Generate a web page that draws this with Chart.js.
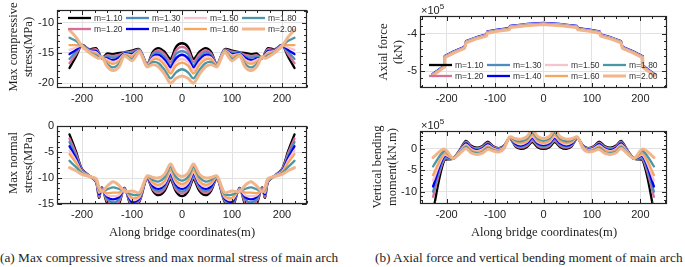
<!DOCTYPE html>
<html><head><meta charset="utf-8">
<script src="https://cdn.jsdelivr.net/npm/chart.js@4.4.1/dist/chart.umd.min.js"></script>
<style>
html,body{margin:0;padding:0;background:#fff;}
#wrap{position:relative;width:685px;height:267px;overflow:hidden;background:#fff;}
canvas{position:absolute;}
.t{position:absolute;font-family:"Liberation Serif","Times New Roman",serif;color:#1e1e1e;white-space:nowrap;font-size:12.6px;line-height:14px;}
.rot{transform:translate(-50%,-50%) rotate(-90deg);}
.ctr{transform:translate(-50%,-50%);}
.cap{font-size:13.3px;}
.exp{position:absolute;font-family:"Liberation Sans",Arial,sans-serif;font-size:11px;color:#222;line-height:12px;white-space:nowrap;}
.exp span{font-size:8px;position:relative;top:-5px;}
</style></head>
<body><div id="wrap">
<canvas id="c1" width="330" height="116" style="left:0px;top:-6px;width:330px;height:116px"></canvas>
<canvas id="c2" width="330" height="125" style="left:0px;top:110px;width:330px;height:125px"></canvas>
<canvas id="c3" width="345" height="110" style="left:340px;top:0px;width:345px;height:110px"></canvas>
<canvas id="c4" width="345" height="125" style="left:340px;top:110px;width:345px;height:125px"></canvas>
<div class="t rot" style="left:13px;top:47px">Max compressive</div>
<div class="t rot" style="left:28px;top:47px">stress(MPa)</div>
<div class="t rot" style="left:13px;top:163px">Max normal</div>
<div class="t rot" style="left:28px;top:163px">stress(MPa)</div>
<div class="t rot" style="left:383px;top:52px">Axial force</div>
<div class="t rot" style="left:398px;top:52px">(kN)</div>
<div class="t rot" style="left:377px;top:167px">Vertical bending</div>
<div class="t rot" style="left:392px;top:167px">moment(kN.m)</div>
<div class="t ctr" style="left:182px;top:232px">Along bridge coordinates(m)</div>
<div class="t ctr" style="left:544px;top:232px">Along bridge coordinates(m)</div>
<div class="t cap" style="left:0px;top:251px">(a) Max compressive stress and max normal stress of main arch</div>
<div class="t cap" style="left:375px;top:251px">(b) Axial force and vertical bending moment of main arch</div>
<div class="exp" style="left:421px;top:4px">×10<span>5</span></div>
<div class="exp" style="left:421px;top:119px">×10<span>5</span></div>
</div>
<script>
// ---------- categories / labels ----------
const M_LABELS = ['m=1.10','m=1.20','m=1.30','m=1.40','m=1.50','m=1.60','m=1.80','m=2.00'];
const LEGEND_ORDER = [0,2,4,6,1,3,5,7];

// ---------- tick labels ----------
const X_TICKS = [-200,-100,0,100,200];
const Y_TICKS_COMP = [-10,-15,-20];
const Y_TICKS_NORM = [0,-5,-10,-15];
const Y_TICKS_AXIAL = [-4,-5];
const Y_TICKS_MOMENT = [0,-5,-10];

// ---------- x coordinates (m) ----------
const X_STRESS = [-225,-212,-200,-185,-172,-166,-160,-150,-138,-126,-115,-100,-85,-70,-58,-47,-35,-23,-12,0,12,23,35,47,58,70,85,100,115,126,138,150,160,166,172,185,200,212,225];
const X_AXIAL = [-229,-217,-205,-204,-185,-163,-160,-140,-118,-116,-95,-71,-69,-35,0,35,69,71,95,116,118,140,160,163,185,204,205,217,229];
const X_MOMENT = [-228,-205,-187,-175,-160,-150,-138,-126,-115,-104,-92,-82,-70,-58,-47,-35,-23,-12,0,12,23,35,47,58,70,82,92,104,115,126,138,150,160,175,187,205,228];

// ---------- Max compressive stress (MPa) ----------
const COMP_m110 = [-17.5,-15.6,-13.7,-14.4,-14.2,-15.0,-15.9,-15.1,-15.2,-15.0,-14.9,-14.6,-14.4,-16.8,-14.8,-14.2,-14.8,-16.0,-14.0,-13.4,-14.0,-16.0,-14.8,-14.2,-14.8,-16.8,-14.4,-14.6,-14.9,-15.0,-15.2,-15.1,-15.9,-15.0,-14.2,-14.4,-13.7,-15.6,-17.5];
const COMP_m120 = [-16.7,-15.2,-13.7,-14.5,-14.4,-15.1,-15.9,-15.4,-15.5,-15.3,-15.0,-14.8,-14.5,-16.9,-15.1,-14.6,-15.2,-16.5,-14.6,-14.0,-14.6,-16.5,-15.2,-14.6,-15.1,-16.9,-14.5,-14.8,-15.0,-15.3,-15.5,-15.4,-15.9,-15.1,-14.4,-14.5,-13.7,-15.2,-16.7];
const COMP_m130 = [-16.0,-14.8,-13.7,-14.5,-14.6,-15.2,-15.8,-15.6,-15.8,-15.6,-15.0,-15.0,-14.5,-16.9,-15.3,-14.9,-15.7,-17.0,-15.2,-14.7,-15.2,-17.0,-15.7,-14.9,-15.3,-16.9,-14.5,-15.0,-15.0,-15.6,-15.8,-15.6,-15.8,-15.2,-14.6,-14.5,-13.7,-14.8,-16.0];
const COMP_m140 = [-15.2,-14.5,-13.8,-14.6,-14.7,-15.3,-15.8,-15.9,-16.2,-15.8,-15.1,-15.2,-14.6,-17.0,-15.6,-15.3,-16.1,-17.4,-15.9,-15.3,-15.9,-17.4,-16.1,-15.3,-15.6,-17.0,-14.6,-15.2,-15.1,-15.8,-16.2,-15.9,-15.8,-15.3,-14.7,-14.6,-13.8,-14.5,-15.2];
const COMP_m150 = [-14.5,-14.1,-13.8,-14.7,-14.9,-15.4,-15.8,-16.1,-16.5,-16.1,-15.2,-15.4,-14.6,-17.0,-15.8,-15.7,-16.6,-17.9,-16.5,-16.0,-16.5,-17.9,-16.6,-15.7,-15.8,-17.0,-14.6,-15.4,-15.2,-16.1,-16.5,-16.1,-15.8,-15.4,-14.9,-14.7,-13.8,-14.1,-14.5];
const COMP_m160 = [-13.7,-13.7,-13.8,-14.8,-15.1,-15.5,-15.7,-16.4,-16.8,-16.4,-15.3,-15.6,-14.7,-17.1,-16.1,-16.1,-17.0,-18.4,-17.1,-16.6,-17.1,-18.4,-17.0,-16.1,-16.1,-17.1,-14.7,-15.6,-15.3,-16.4,-16.8,-16.4,-15.7,-15.5,-15.1,-14.8,-13.8,-13.7,-13.7];
const COMP_m180 = [-12.5,-13.0,-13.9,-14.9,-15.4,-15.7,-15.7,-16.8,-17.4,-16.8,-15.4,-16.0,-14.8,-17.2,-16.5,-16.7,-17.8,-19.2,-18.2,-17.7,-18.2,-19.2,-17.8,-16.7,-16.5,-17.2,-14.8,-16.0,-15.4,-16.8,-17.4,-16.8,-15.7,-15.7,-15.4,-14.9,-13.9,-13.0,-12.5];
const COMP_m200 = [-11.2,-12.4,-13.9,-15.0,-15.7,-15.9,-15.6,-17.2,-17.9,-17.3,-15.5,-16.3,-14.9,-17.3,-16.9,-17.3,-18.5,-20.0,-19.2,-18.8,-19.2,-20.0,-18.5,-17.3,-16.9,-17.3,-14.9,-16.3,-15.5,-17.3,-17.9,-17.2,-15.6,-15.9,-15.7,-15.0,-13.9,-12.4,-11.2];

// ---------- Max normal stress (MPa) ----------
const NORM_m110 = [-1.6,-4.9,-8.3,-9.6,-10.8,-13.8,-11.8,-14.8,-16.0,-15.0,-11.9,-15.8,-14.5,-10.0,-12.5,-13.3,-12.5,-10.3,-12.6,-13.5,-12.6,-10.3,-12.5,-13.3,-12.5,-10.0,-14.5,-15.8,-11.9,-15.0,-16.0,-14.8,-11.8,-13.8,-10.8,-9.6,-8.3,-4.9,-1.6];
const NORM_m120 = [-2.4,-5.3,-8.4,-9.6,-10.7,-13.6,-11.9,-14.4,-15.4,-14.6,-12.0,-15.4,-14.3,-10.0,-12.2,-12.9,-12.1,-9.9,-12.2,-13.0,-12.2,-9.9,-12.1,-12.9,-12.2,-10.0,-14.3,-15.4,-12.0,-14.6,-15.4,-14.4,-11.9,-13.6,-10.7,-9.6,-8.4,-5.3,-2.4];
const NORM_m130 = [-3.1,-5.8,-8.5,-9.6,-10.6,-13.3,-12.0,-14.0,-14.7,-14.1,-12.1,-15.0,-14.1,-9.9,-11.9,-12.5,-11.7,-9.6,-11.8,-12.6,-11.8,-9.6,-11.7,-12.5,-11.9,-9.9,-14.1,-15.0,-12.1,-14.1,-14.7,-14.0,-12.0,-13.3,-10.6,-9.6,-8.5,-5.8,-3.1];
const NORM_m140 = [-3.9,-6.2,-8.7,-9.6,-10.5,-13.1,-12.1,-13.6,-14.1,-13.7,-12.2,-14.6,-13.9,-9.9,-11.6,-12.1,-11.3,-9.2,-11.3,-12.1,-11.3,-9.2,-11.3,-12.1,-11.6,-9.9,-13.9,-14.6,-12.2,-13.7,-14.1,-13.6,-12.1,-13.1,-10.5,-9.6,-8.7,-6.2,-3.9];
const NORM_m150 = [-4.7,-6.7,-8.8,-9.6,-10.5,-12.8,-12.2,-13.3,-13.5,-13.3,-12.2,-14.2,-13.7,-9.8,-11.2,-11.7,-11.0,-8.9,-10.9,-11.7,-10.9,-8.9,-11.0,-11.7,-11.2,-9.8,-13.7,-14.2,-12.2,-13.3,-13.5,-13.3,-12.2,-12.8,-10.5,-9.6,-8.8,-6.7,-4.7];
const NORM_m160 = [-5.4,-7.1,-8.9,-9.7,-10.4,-12.6,-12.3,-12.9,-12.8,-12.8,-12.3,-13.8,-13.5,-9.8,-10.9,-11.3,-10.6,-8.5,-10.5,-11.2,-10.5,-8.5,-10.6,-11.3,-10.9,-9.8,-13.5,-13.8,-12.3,-12.8,-12.8,-12.9,-12.3,-12.6,-10.4,-9.7,-8.9,-7.1,-5.4];
const NORM_m180 = [-6.7,-7.9,-9.1,-9.7,-10.2,-12.2,-12.4,-12.2,-11.8,-12.1,-12.5,-13.2,-13.1,-9.7,-10.4,-10.7,-9.9,-7.9,-9.8,-10.5,-9.8,-7.9,-9.9,-10.7,-10.4,-9.7,-13.1,-13.2,-12.5,-12.1,-11.8,-12.2,-12.4,-12.2,-10.2,-9.7,-9.1,-7.9,-6.7];
const NORM_m200 = [-8.0,-8.6,-9.3,-9.7,-10.1,-11.8,-12.6,-11.6,-10.7,-11.4,-12.6,-12.5,-12.8,-9.6,-9.9,-10.0,-9.3,-7.3,-9.1,-9.7,-9.1,-7.3,-9.3,-10.0,-9.9,-9.6,-12.8,-12.5,-12.6,-11.4,-10.7,-11.6,-12.6,-11.8,-10.1,-9.7,-9.3,-8.6,-8.0];

// ---------- Axial force (x10^5 kN) ----------
const AXIAL_m110 = [-5.100,-4.990,-4.870,-4.620,-4.490,-4.370,-4.220,-4.120,-4.040,-3.960,-3.910,-3.870,-3.810,-3.760,-3.730,-3.760,-3.810,-3.870,-3.910,-3.960,-4.040,-4.120,-4.220,-4.370,-4.490,-4.620,-4.870,-4.990,-5.100];
const AXIAL_m120 = [-5.095,-4.985,-4.865,-4.615,-4.485,-4.365,-4.215,-4.115,-4.035,-3.955,-3.905,-3.865,-3.805,-3.755,-3.725,-3.755,-3.805,-3.865,-3.905,-3.955,-4.035,-4.115,-4.215,-4.365,-4.485,-4.615,-4.865,-4.985,-5.095];
const AXIAL_m130 = [-5.090,-4.980,-4.860,-4.610,-4.480,-4.360,-4.210,-4.110,-4.030,-3.950,-3.900,-3.860,-3.800,-3.750,-3.720,-3.750,-3.800,-3.860,-3.900,-3.950,-4.030,-4.110,-4.210,-4.360,-4.480,-4.610,-4.860,-4.980,-5.090];
const AXIAL_m140 = [-5.080,-4.970,-4.850,-4.600,-4.470,-4.350,-4.200,-4.100,-4.020,-3.940,-3.890,-3.850,-3.790,-3.740,-3.710,-3.740,-3.790,-3.850,-3.890,-3.940,-4.020,-4.100,-4.200,-4.350,-4.470,-4.600,-4.850,-4.970,-5.080];
const AXIAL_m150 = [-5.092,-4.982,-4.862,-4.612,-4.482,-4.362,-4.212,-4.112,-4.032,-3.952,-3.902,-3.862,-3.802,-3.752,-3.722,-3.752,-3.802,-3.862,-3.902,-3.952,-4.032,-4.112,-4.212,-4.362,-4.482,-4.612,-4.862,-4.982,-5.092];
const AXIAL_m160 = [-5.105,-4.995,-4.875,-4.625,-4.495,-4.375,-4.225,-4.125,-4.045,-3.965,-3.915,-3.875,-3.815,-3.765,-3.735,-3.765,-3.815,-3.875,-3.915,-3.965,-4.045,-4.125,-4.225,-4.375,-4.495,-4.625,-4.875,-4.995,-5.105];
const AXIAL_m180 = [-5.110,-5.000,-4.880,-4.630,-4.500,-4.380,-4.230,-4.130,-4.050,-3.970,-3.920,-3.880,-3.820,-3.770,-3.740,-3.770,-3.820,-3.880,-3.920,-3.970,-4.050,-4.130,-4.230,-4.380,-4.500,-4.630,-4.880,-5.000,-5.110];
const AXIAL_m200 = [-5.125,-5.015,-4.895,-4.645,-4.515,-4.395,-4.245,-4.145,-4.065,-3.985,-3.935,-3.895,-3.835,-3.785,-3.755,-3.785,-3.835,-3.895,-3.935,-3.985,-4.065,-4.145,-4.245,-4.395,-4.515,-4.645,-4.895,-5.015,-5.125];

// ---------- Vertical bending moment (x10^5 kN.m) ----------
const MOM_m110 = [-14.5,-2.7,-2.3,-0.6,1.9,0.8,0.3,0.7,1.7,0.6,0.2,0.7,2.5,0.6,0.0,0.4,1.6,0.4,0.0,0.4,1.6,0.4,0.0,0.6,2.5,0.7,0.2,0.6,1.7,0.7,0.3,0.8,1.9,-0.6,-2.3,-2.7,-14.5];
const MOM_m120 = [-11.2,-2.4,-2.3,-0.7,1.7,0.6,0.1,0.5,1.5,0.5,0.1,0.6,2.5,0.8,0.3,0.7,1.9,0.7,0.3,0.7,1.9,0.7,0.3,0.8,2.5,0.6,0.1,0.5,1.5,0.5,0.1,0.6,1.7,-0.7,-2.3,-2.4,-11.2];
const MOM_m130 = [-10.0,-2.1,-2.3,-0.8,1.5,0.4,-0.1,0.3,1.3,0.3,0.0,0.5,2.6,1.0,0.6,1.0,2.3,1.0,0.6,1.0,2.3,1.0,0.6,1.0,2.6,0.5,0.0,0.3,1.3,0.3,-0.1,0.4,1.5,-0.8,-2.3,-2.1,-10.0];
const MOM_m140 = [-8.8,-1.7,-2.3,-0.9,1.3,0.2,-0.3,0.1,1.1,0.2,-0.1,0.4,2.6,1.2,0.8,1.3,2.6,1.3,0.9,1.3,2.6,1.3,0.8,1.2,2.6,0.4,-0.1,0.2,1.1,0.1,-0.3,0.2,1.3,-0.9,-2.3,-1.7,-8.8];
const MOM_m150 = [-7.4,-1.4,-2.3,-0.9,1.0,0.0,-0.5,-0.1,0.8,0.1,-0.2,0.4,2.6,1.5,1.1,1.6,2.9,1.6,1.2,1.6,2.9,1.6,1.1,1.5,2.6,0.4,-0.2,0.1,0.8,-0.1,-0.5,0.0,1.0,-0.9,-2.3,-1.4,-7.4];
const MOM_m160 = [-6.1,-1.1,-2.2,-1.0,0.8,-0.2,-0.7,-0.3,0.6,-0.1,-0.3,0.3,2.7,1.7,1.4,1.8,3.3,1.9,1.4,1.9,3.3,1.8,1.4,1.7,2.7,0.3,-0.3,-0.1,0.6,-0.3,-0.7,-0.2,0.8,-1.0,-2.2,-1.1,-6.1];
const MOM_m180 = [-4.1,-0.5,-2.2,-1.2,0.5,-0.6,-1.0,-0.7,0.3,-0.3,-0.5,0.1,2.7,2.0,1.8,2.3,3.8,2.4,1.9,2.4,3.8,2.3,1.8,2.0,2.7,0.1,-0.5,-0.3,0.3,-0.7,-1.0,-0.6,0.5,-1.2,-2.2,-0.5,-4.1];
const MOM_m200 = [-2.0,0.0,-2.2,-1.3,0.1,-0.9,-1.3,-1.0,-0.1,-0.5,-0.7,0.0,2.8,2.4,2.3,2.8,4.4,2.9,2.4,2.9,4.4,2.8,2.3,2.4,2.8,0.0,-0.7,-0.5,-0.1,-1.0,-1.3,-0.9,0.1,-1.3,-2.2,0.0,-2.0];

// ---------- styles ----------
const COLORS = ['#000000','#d6709a','#4d8cc0','#0000ee','#f7c4ce','#f6a65f','#4b97a5','#f2b48a'];
const WIDTHS = [2.3,2.3,2.3,2.3,2.3,2.3,2.3,3];

Chart.defaults.font.family = '"Liberation Sans", Arial, sans-serif';
Chart.defaults.font.size = 11;
Chart.defaults.color = '#222';

const framePlugin = {
  id: 'frame',
  afterDraw(chart, args, o) {
    const ctx = chart.ctx, a = chart.chartArea, xs = chart.scales.x, ys = chart.scales.y;
    ctx.save();
    const L = Math.round(a.left) + 0.5, R = Math.round(a.right) - 0.5, T = Math.round(a.top) + 0.5, B = Math.round(a.bottom) - 0.5;
    ctx.strokeStyle = '#262626';
    ctx.lineWidth = 1;
    ctx.beginPath();
    const tickX = (v, len) => { const p = Math.round(xs.getPixelForValue(v)) + 0.5; ctx.moveTo(p, B); ctx.lineTo(p, B - len); ctx.moveTo(p, T); ctx.lineTo(p, T + len); };
    const tickY = (v, len) => { const p = Math.round(ys.getPixelForValue(v)) + 0.5; ctx.moveTo(L, p); ctx.lineTo(L + len, p); ctx.moveTo(R, p); ctx.lineTo(R - len, p); };
    for (let n = Math.ceil(xs.min / o.xMinor); n * o.xMinor <= xs.max; n++) tickX(n * o.xMinor, 2.5);
    for (let n = Math.ceil(ys.min / o.yMinor - 1e-9); n * o.yMinor <= ys.max + 1e-9; n++) tickY(n * o.yMinor, 2.5);
    o.xMajor.forEach(v => tickX(v, 4.5));
    o.yMajor.forEach(v => tickY(v, 4.5));
    ctx.stroke();
    ctx.lineWidth = 1.2;
    ctx.strokeRect(L, T, R - L, B - T);
    if (o.legend) {
      ctx.font = '8.5px "Liberation Sans", Arial, sans-serif';
      ctx.textBaseline = 'middle';
      ctx.textAlign = 'left';
      LEGEND_ORDER.forEach((si, k) => {
        const col = k % 4, row = Math.floor(k / 4);
        const x0 = a.left + o.legend.cols[col], y0 = a.top + o.legend.rows[row];
        ctx.strokeStyle = COLORS[si];
        ctx.lineWidth = WIDTHS[si];
        ctx.beginPath(); ctx.moveTo(x0, y0); ctx.lineTo(x0 + 23, y0); ctx.stroke();
        ctx.fillStyle = '#333';
        ctx.fillText(chart.data.datasets[si].label, x0 + 26, y0 + 0.5);
      });
    }
    ctx.restore();
  }
};

function makeChart(id, X, series, cfg) {
  return new Chart(document.getElementById(id), {
    type: 'line',
    data: {
      datasets: series.map((vals, i) => ({
        label: M_LABELS[i],
        data: X.map((x, j) => ({ x: x, y: vals[j] })),
        borderColor: COLORS[i], backgroundColor: COLORS[i], borderWidth: WIDTHS[i],
        pointRadius: 0, pointHoverRadius: 0, fill: false, tension: cfg.tension,
        order: 7 - i, borderJoinStyle: 'round', borderCapStyle: 'round'
      }))
    },
    options: {
      responsive: false, animation: false, devicePixelRatio: 1, events: [],
      layout: { padding: cfg.padding },
      plugins: { legend: { display: false }, tooltip: { enabled: false }, frame: cfg.frame },
      scales: {
        x: {
          type: 'linear', min: cfg.xMin, max: cfg.xMax,
          afterBuildTicks: s => { s.ticks = cfg.frame.xMajor.map(v => ({ value: v })); },
          afterFit: s => { s.height = cfg.xH; },
          grid: { color: '#e2e2e2', lineWidth: 1, drawTicks: false },
          border: { display: false },
          ticks: { padding: 4, maxRotation: 0, autoSkip: false, color: '#222', callback: v => String(v) }
        },
        y: {
          type: 'linear', min: cfg.yMin, max: cfg.yMax,
          afterBuildTicks: s => { s.ticks = cfg.frame.yMajor.map(v => ({ value: v })); },
          afterFit: s => { s.width = cfg.yW; },
          grid: { color: '#e2e2e2', lineWidth: 1, drawTicks: false },
          border: { display: false },
          ticks: { padding: 3, autoSkip: false, color: '#222', callback: v => String(v) }
        }
      }
    },
    plugins: [framePlugin]
  });
}

makeChart('c1', X_STRESS, [COMP_m110, COMP_m120, COMP_m130, COMP_m140, COMP_m150, COMP_m160, COMP_m180, COMP_m200], {
  tension: 0.3, xMin: -250, xMax: 250, yMin: -20.8, yMax: -7.9,
  padding: { left: 17, top: 16, right: 23, bottom: 0 }, xH: 22, yW: 40,
  frame: { xMajor: X_TICKS, yMajor: Y_TICKS_COMP, xMinor: 25, yMinor: 1, legend: { cols: [11, 69, 127, 185], rows: [8, 19] } }
});
makeChart('c2', X_STRESS, [NORM_m110, NORM_m120, NORM_m130, NORM_m140, NORM_m150, NORM_m160, NORM_m180, NORM_m200], {
  tension: 0.3, xMin: -250, xMax: 250, yMin: -15, yMax: 0,
  padding: { left: 17, top: 16, right: 23, bottom: 0 }, xH: 31, yW: 40,
  frame: { xMajor: X_TICKS, yMajor: Y_TICKS_NORM, xMinor: 25, yMinor: 1 }
});
makeChart('c3', X_AXIAL, [AXIAL_m110, AXIAL_m120, AXIAL_m130, AXIAL_m140, AXIAL_m150, AXIAL_m160, AXIAL_m180, AXIAL_m200], {
  tension: 0, xMin: -255, xMax: 255, yMin: -5.455, yMax: -3.525,
  padding: { left: 40, top: 16, right: 18, bottom: 0 }, xH: 22, yW: 40,
  frame: { xMajor: X_TICKS, yMajor: Y_TICKS_AXIAL, xMinor: 25, yMinor: 0.2, legend: { cols: [9, 67, 125, 183], rows: [49, 60] } }
});
makeChart('c4', X_MOMENT, [MOM_m110, MOM_m120, MOM_m130, MOM_m140, MOM_m150, MOM_m160, MOM_m180, MOM_m200], {
  tension: 0.3, xMin: -255, xMax: 255, yMin: -12.9, yMax: 4.2,
  padding: { left: 40, top: 21, right: 18, bottom: 0 }, xH: 31, yW: 40,
  frame: { xMajor: X_TICKS, yMajor: Y_TICKS_MOMENT, xMinor: 25, yMinor: 1 }
});
</script>
</body></html>
